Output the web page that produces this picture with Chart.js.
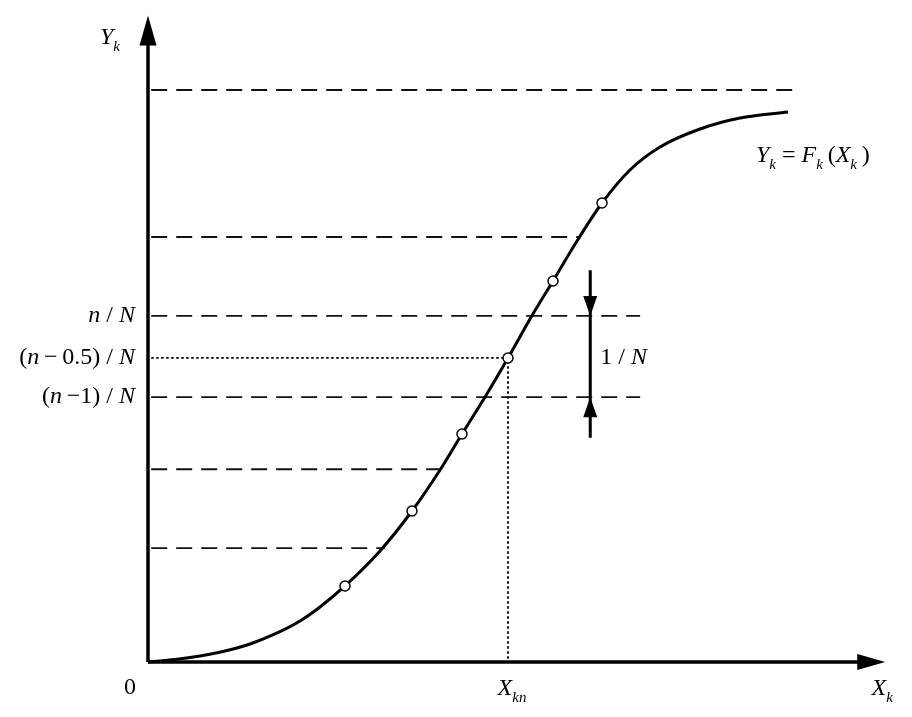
<!DOCTYPE html>
<html>
<head>
<meta charset="utf-8">
<script src="https://cdn.jsdelivr.net/npm/chart.js@4.4.0/dist/chart.umd.min.js"></script>
<style>
  html, body { margin: 0; padding: 0; background: #fff; }
  #wrap { width: 912px; height: 717px; }
</style>
</head>
<body>
<div id="wrap"><canvas id="cdfChart" width="912" height="717"></canvas></div>
<script>
// curve Y_k = F_k(X_k) (x: 0..1 along the curve, y: 0..1 up to the top dashed line)
const curveX = [0, 0.0422, 0.0813, 0.1203, 0.1594, 0.1984, 0.2375, 0.2688, 0.3078, 0.3625, 0.4125, 0.4563, 0.4906, 0.5266, 0.5625, 0.5969, 0.6328, 0.6703, 0.7094, 0.7531, 0.800, 0.8625, 0.925, 1.0];
const curveY = [0, 0.0044, 0.0105, 0.0192, 0.0315, 0.0490, 0.0717, 0.0962, 0.1329, 0.1941, 0.2640, 0.3357, 0.3986, 0.4633, 0.5315, 0.5997, 0.6661, 0.7360, 0.8024, 0.8601, 0.9003, 0.9318, 0.9510, 0.9615];

// hollow sample points on the curve
const sampleX = [0.3078, 0.4125, 0.4906, 0.5625, 0.6328, 0.7094];
const sampleY = [0.1329, 0.2640, 0.3986, 0.5315, 0.6661, 0.8024];

// dashed horizontal levels and where each one stops
const levelY = [1.0, 0.743, 0.605, 0.463, 0.337, 0.199];
const levelEndX = [1.011, 0.672, 0.769, 0.769, 0.456, 0.370];

// the (n-0.5)/N point and the 1/N bracket
const midX = 0.5625, midY = 0.5315;
const bracketX = 0.691, bracketTop = 0.685, bracketBottom = 0.392;
const xAxisEnd = 1.152, yAxisEnd = 1.13;

const serif = '"Liberation Serif", "Times New Roman", Times, serif';

const datasets = [];
datasets.push({
    type: 'line',
    data: curveX.map((x, i) => ({ x: x, y: curveY[i] })),
    borderColor: '#000',
    borderWidth: 3,
    pointRadius: 0,
    cubicInterpolationMode: 'monotone',
    order: 1
});
datasets.push({
    type: 'scatter',
    data: sampleX.map((x, i) => ({ x: x, y: sampleY[i] })),
    pointRadius: 5,
    pointBackgroundColor: '#fff',
    pointBorderColor: '#000',
    pointBorderWidth: 1.5,
    order: 0
});
levelY.forEach((y, i) => {
    datasets.push({
        type: 'line',
        data: [{ x: 0.005, y: y }, { x: levelEndX[i], y: y }],
        borderColor: '#111',
        borderWidth: 1.8,
        borderDash: [16, 9],
        pointRadius: 0,
        order: 2
    });
});
datasets.push({
    type: 'line',
    data: [{ x: 0.005, y: midY }, { x: midX, y: midY }, { x: midX, y: 0 }],
    borderColor: '#000',
    borderWidth: 1.8,
    borderDash: [2.5, 2.5],
    pointRadius: 0,
    order: 2
});
datasets.push({
    type: 'line',
    data: [{ x: bracketX, y: bracketTop }, { x: bracketX, y: bracketBottom }],
    borderColor: '#000',
    borderWidth: 3,
    pointRadius: 0,
    order: 2
});

// draws a run of [text, style] pieces; style: 'i' italic, 'r' roman, 's' italic subscript
function richText(ctx, parts, x, y, align, size) {
    const fontOf = s => (s === 'r' ? '' : 'italic ') + (s === 's' ? Math.round(size * 0.62) : size) + 'px ' + serif;
    let total = 0;
    parts.forEach(p => { ctx.font = fontOf(p[1]); total += ctx.measureText(p[0]).width; });
    let cx = align === 'right' ? x - total : (align === 'center' ? x - total / 2 : x);
    ctx.textBaseline = 'middle';
    ctx.textAlign = 'left';
    parts.forEach(p => {
        ctx.font = fontOf(p[1]);
        ctx.fillText(p[0], cx, p[1] === 's' ? y + size * 0.38 : y);
        cx += ctx.measureText(p[0]).width;
    });
}

function triangle(ctx, tipX, tipY, baseY, half) {
    ctx.beginPath();
    ctx.moveTo(tipX, tipY);
    ctx.lineTo(tipX - half, baseY);
    ctx.lineTo(tipX + half, baseY);
    ctx.closePath();
    ctx.fill();
}

const annotations = {
    id: 'annotations',
    afterDatasetsDraw(chart) {
        const ctx = chart.ctx;
        const xs = chart.scales.x, ys = chart.scales.y;
        const ox = xs.getPixelForValue(0), oy = ys.getPixelForValue(0);
        const xEnd = xs.getPixelForValue(xAxisEnd), yEnd = ys.getPixelForValue(yAxisEnd);
        ctx.save();
        ctx.fillStyle = '#000';
        ctx.strokeStyle = '#000';
        // axes
        ctx.lineWidth = 3.5;
        ctx.beginPath();
        ctx.moveTo(ox, oy);
        ctx.lineTo(xEnd - 20, oy);
        ctx.moveTo(ox, oy);
        ctx.lineTo(ox, yEnd + 20);
        ctx.stroke();
        ctx.beginPath();
        ctx.moveTo(xEnd, oy);
        ctx.lineTo(xEnd - 28, oy - 8);
        ctx.lineTo(xEnd - 28, oy + 8);
        ctx.closePath();
        ctx.fill();
        triangle(ctx, ox, yEnd, yEnd + 30, 8.5);

        // 1/N bracket arrowheads
        const bx = xs.getPixelForValue(bracketX);
        const nTop = ys.getPixelForValue(levelY[2]), nBot = ys.getPixelForValue(levelY[3]);
        triangle(ctx, bx, nTop, nTop - 20, 7);
        triangle(ctx, bx, nBot, nBot + 20, 7);

        ctx.fillStyle = '#000';
        const size = 24;
        const lx = ox - 13;
        richText(ctx, [['n', 'i'], [' / ', 'r'], ['N', 'i']], lx, ys.getPixelForValue(levelY[2]), 'right', size);
        richText(ctx, [['(', 'r'], ['n', 'i'], ['\u2009\u2212\u2009', 'r'], ['0.5) / ', 'r'], ['N', 'i']], lx, ys.getPixelForValue(midY), 'right', size);
        richText(ctx, [['(', 'r'], ['n', 'i'], ['\u2009\u22121) / ', 'r'], ['N', 'i']], lx, ys.getPixelForValue(levelY[3]), 'right', size);
        richText(ctx, [['1 / ', 'r'], ['N', 'i']], bx + 10, ys.getPixelForValue(midY), 'left', size);
        richText(ctx, [['Y', 'i'], ['k', 's']], ox - 48, yEnd + 22, 'left', size);
        richText(ctx, [['0', 'r']], ox - 18, oy + 26, 'center', size);
        richText(ctx, [['X', 'i'], ['kn', 's']], xs.getPixelForValue(midX) + 4, oy + 27, 'center', size);
        richText(ctx, [['X', 'i'], ['k', 's']], xEnd - 3, oy + 27, 'center', size);
        richText(ctx, [['Y', 'i'], ['k', 's'], [' = ', 'r'], ['F', 'i'], ['k', 's'], ['\u2009(', 'r'], ['X', 'i'], ['k', 's'], ['\u2009)', 'r']],
            xs.getPixelForValue(0.95), ys.getPixelForValue(0.885), 'left', size);
        ctx.restore();
    }
};

new Chart(document.getElementById('cdfChart').getContext('2d'), {
    type: 'scatter',
    data: { datasets: datasets },
    options: {
        responsive: false,
        animation: false,
        layout: { padding: 0, autoPadding: false },
        clip: false,
        scales: {
            x: { type: 'linear', display: false, min: -0.23125, max: 1.19375 },
            y: { type: 'linear', display: false, min: -0.09615, max: 1.1573 }
        },
        plugins: {
            legend: { display: false },
            tooltip: { enabled: false }
        }
    },
    plugins: [annotations]
});
</script>
</body>
</html>
